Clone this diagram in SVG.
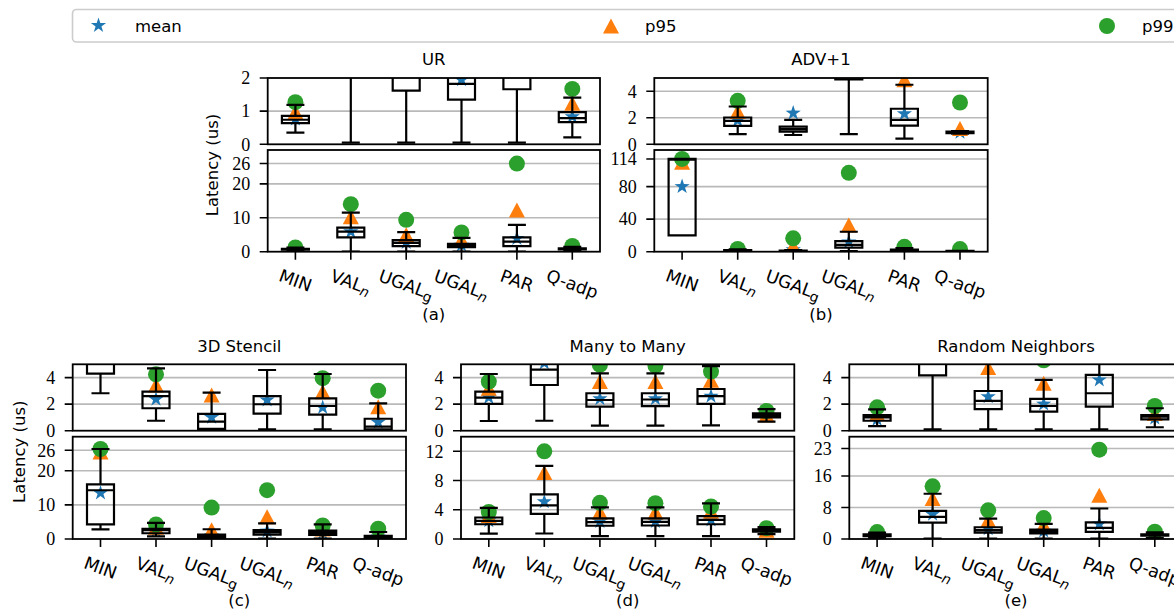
<svg xmlns="http://www.w3.org/2000/svg" width="1174" height="611" viewBox="0 0 1174 611">
<style>
.sp{fill:none;stroke:#000;stroke-width:1.8}
.gr{fill:none;stroke:#b9b9b9;stroke-width:1.6}
.tk{fill:none;stroke:#000;stroke-width:1.6}
.bx path{fill:none;stroke:#000;stroke-width:2.2;vector-effect:non-scaling-stroke}
.num{font-family:"Liberation Serif","Times New Roman",serif;font-size:18px;text-anchor:end;fill:#000}
.ttl{font-family:"DejaVu Sans",sans-serif;font-size:16.5px;text-anchor:middle;fill:#000}
.cat{font-family:"DejaVu Sans",sans-serif;font-size:17.5px;text-anchor:middle;dominant-baseline:central;fill:#000}
.sub{font-style:italic;font-size:14px}
.subg{font-size:14px}
.leg{font-family:"DejaVu Sans",sans-serif;font-size:16.5px;fill:#000}
</style>
<defs>
<path id="ms" d="M0-8L1.8-2.48 7.61-2.47 2.91.95 4.7 6.47 0 3.06-4.7 6.47-2.91.95-7.61-2.47-1.8-2.48Z" fill="#1f77b4"/>
<path id="mt" d="M0-7.5L8 7.5H-8Z" fill="#ff7f0e"/>
<circle id="mc" r="8" fill="#2ca02c"/>
<clipPath id="cAt"><rect x="267.7" y="78" width="332.3" height="66.3"/></clipPath>
<clipPath id="cAb"><rect x="267.7" y="150" width="332.3" height="101.7"/></clipPath>
<clipPath id="cBt"><rect x="654.3" y="78" width="333.4" height="66.3"/></clipPath>
<clipPath id="cBb"><rect x="654.3" y="150" width="333.4" height="101.7"/></clipPath>
<clipPath id="cCt"><rect x="72.7" y="364.3" width="333.3" height="66.4"/></clipPath>
<clipPath id="cCb"><rect x="72.7" y="436.7" width="333.3" height="102.3"/></clipPath>
<clipPath id="cDt"><rect x="461" y="364.3" width="333.3" height="66.4"/></clipPath>
<clipPath id="cDb"><rect x="461" y="436.7" width="333.3" height="102.3"/></clipPath>
<clipPath id="cEt"><rect x="849.3" y="364.3" width="333.3" height="66.4"/></clipPath>
<clipPath id="cEb"><rect x="849.3" y="436.7" width="333.3" height="102.3"/></clipPath>
<g id="bA" class="bx">
<path d="M286.4 .35H304.4M295.4 .35V.64M281.9 .64H308.9V.86H281.9ZM281.9 .74H308.9M295.4 .86V1.19M286.4 1.19H304.4"/>
<path d="M341.8 .05H359.8M350.8 .05V4.2M337.3 4.2H364.3V7.1H337.3ZM337.3 5.9H364.3M350.8 7.1V11.5M341.8 11.5H359.8"/>
<path d="M397.2 .05H415.2M406.2 .05V1.62M392.7 1.62H419.7V3.4H392.7ZM392.7 2.6H419.7M406.2 3.4V5.8M397.2 5.8H415.2"/>
<path d="M452.5 .05H470.5M461.5 .05V1.35M448 1.35H475V2.3H448ZM448 1.82H475M461.5 2.3V4.1M452.5 4.1H470.5"/>
<path d="M507.9 .05H525.9M516.9 .05V1.66M503.4 1.66H530.4V4.2H503.4ZM503.4 2.95H530.4M516.9 4.2V7.9M507.9 7.9H525.9"/>
<path d="M563.3 .21H581.3M572.3 .21V.67M558.8 .67H585.8V.97H558.8ZM558.8 .79H585.8M572.3 .97V1.41M563.3 1.41H581.3"/>
</g>
<g id="bB" class="bx">
<path d="M673.1 20H691.1M668.6 20H695.6V114H668.6ZM668.6 113H695.6M673.1 114H691.1"/>
<path d="M728.7 .76H746.7M737.7 .76V1.39M724.2 1.39H751.2V2.02H724.2ZM724.2 1.77H751.2M737.7 2.02V2.85M728.7 2.85H746.7"/>
<path d="M784.2 .7H802.2M793.2 .7V.95M779.7 .95H806.7V1.33H779.7ZM779.7 1.15H806.7M793.2 1.33V1.84M784.2 1.84H802.2"/>
<path d="M839.8 .76H857.8M848.8 .76V4.9M835.3 4.9H862.3V13H835.3ZM835.3 8.5H862.3M848.8 13V24.5M839.8 24.5H857.8"/>
<path d="M895.4 .43H913.4M904.4 .43V1.41M890.9 1.41H917.9V2.68H890.9ZM890.9 1.84H917.9M904.4 2.68V4.49M895.4 4.49H913.4"/>
<path d="M951 .8H969M960 .8V.85M946.5 .85H973.5V.95H946.5ZM946.5 .9H973.5M960 .95V1M951 1H969"/>
</g>
<g id="bC" class="bx">
<path d="M91.5 2.82H109.5M100.5 2.82V4.3M87 4.3H114V16H87ZM87 14.3H114M100.5 16V26.4M91.5 26.4H109.5"/>
<path d="M147 .75H165M156 .75V1.69M142.5 1.69H169.5V2.94H142.5ZM142.5 2.61H169.5M156 2.94V4.7M147 4.7H165"/>
<path d="M202.6 .1H220.6M211.6 .1V.13M198.1 .13H225.1V1.26H198.1ZM198.1 .68H225.1M211.6 1.26V2.86M202.6 2.86H220.6"/>
<path d="M258.1 .1H276.1M267.1 .1V1.28M253.6 1.28H280.6V2.61H253.6ZM253.6 1.99H280.6M267.1 2.61V4.57M258.1 4.57H276.1"/>
<path d="M313.7 .1H331.7M322.7 .1V1.21M309.2 1.21H336.2V2.44H309.2ZM309.2 1.86H336.2M322.7 2.44V4.27M313.7 4.27H331.7"/>
<path d="M369.2 .05H387.2M378.2 .05V.1M364.7 .1H391.7V.9H364.7ZM364.7 .3H391.7M378.2 .9V2.06M369.2 2.06H387.2"/>
</g>
<g id="bD" class="bx">
<path d="M479.8 .73H497.8M488.8 .73V2.02M475.3 2.02H502.3V2.94H475.3ZM475.3 2.49H502.3M488.8 2.94V4.27M479.8 4.27H497.8"/>
<path d="M535.3 .75H553.3M544.3 .75V3.44M530.8 3.44H557.8V6.1H530.8ZM530.8 4.6H557.8M544.3 6.1V10M535.3 10H553.3"/>
<path d="M590.9 .38H608.9M599.9 .38V1.81M586.4 1.81H613.4V2.82H586.4ZM586.4 2.31H613.4M599.9 2.82V4.32M590.9 4.32H608.9"/>
<path d="M646.4 .38H664.4M655.4 .38V1.85M641.9 1.85H668.9V2.82H641.9ZM641.9 2.35H668.9M655.4 2.82V4.32M646.4 4.32H664.4"/>
<path d="M702 .4H720M711 .4V2.02M697.5 2.02H724.5V3.14H697.5ZM697.5 2.61H724.5M711 3.14V4.87M702 4.87H720"/>
<path d="M757.5 .68H775.5M766.5 .68V1.01M753 1.01H780V1.31H753ZM753 1.15H780M766.5 1.31V1.63M757.5 1.63H775.5"/>
</g>
<g id="bE" class="bx">
<path d="M868.1 .35H886.1M877.1 .35V.75M863.6 .75H890.6V1.18H863.6ZM863.6 1H890.6M877.1 1.18V1.61M868.1 1.61H886.1"/>
<path d="M923.6 .1H941.6M932.6 .1V4.16M919.1 4.16H946.1V7.15H919.1ZM919.1 5.6H946.1M932.6 7.15V11.5M923.6 11.5H941.6"/>
<path d="M979.2 .1H997.2M988.2 .1V1.63M974.7 1.63H1001.7V2.99H974.7ZM974.7 2.24H1001.7M988.2 2.99V5.2M979.2 5.2H997.2"/>
<path d="M1034.7 .1H1052.7M1043.7 .1V1.43M1030.2 1.43H1057.2V2.39H1030.2ZM1030.2 1.86H1057.2M1043.7 2.39V3.82M1034.7 3.82H1052.7"/>
<path d="M1090.3 .1H1108.3M1099.3 .1V1.81M1085.8 1.81H1112.8V4.2H1085.8ZM1085.8 2.82H1112.8M1099.3 4.2V7.75M1090.3 7.75H1108.3"/>
<path d="M1145.8 .26H1163.8M1154.8 .26V.86M1141.3 .86H1168.3V1.18H1141.3ZM1141.3 1.05H1168.3M1154.8 1.18V1.69M1145.8 1.69H1163.8"/>
</g>
</defs>
<rect width="1174" height="611" fill="#fff"/>

<g id="legend">
<rect x="72.5" y="9.5" width="1115" height="32.5" rx="4" fill="#fff" stroke="#cccccc" stroke-width="1.6"/>
<use href="#ms" x="98.5" y="25.5"/><text class="leg" x="135" y="31.5">mean</text>
<use href="#mt" x="611" y="26"/><text class="leg" x="645" y="31.5">p95</text>
<use href="#mc" x="1107" y="26"/><text class="leg" x="1142" y="31.5">p99</text>
</g>

<g id="panel-a">
<path class="gr" d="M267.7 111.15H600M267.7 217.8H600M267.7 183.9H600M267.7 163.56H600"/>
<g clip-path="url(#cAt)">
<use href="#ms" x="295.4" y="119.1"/><use href="#ms" x="461.5" y="79.7"/><use href="#ms" x="572.3" y="116.8"/>
<use href="#mt" x="295.4" y="112.1"/><use href="#mt" x="572.3" y="103.2"/>
<use href="#mc" x="295.4" y="102.2"/><use href="#mc" x="572.3" y="88.9"/>
<use href="#bA" transform="matrix(1 0 0 -33.15 0 144.3)"/>
</g>
<g clip-path="url(#cAb)">
<use href="#ms" x="295.4" y="249.1"/><use href="#ms" x="350.8" y="231.7"/><use href="#ms" x="406.2" y="242.5"/><use href="#ms" x="461.5" y="245.1"/><use href="#ms" x="516.9" y="238.5"/><use href="#ms" x="572.3" y="248.9"/>
<use href="#mt" x="295.4" y="248.4"/><use href="#mt" x="350.8" y="216.8"/><use href="#mt" x="406.2" y="234.75"/><use href="#mt" x="461.5" y="239.8"/><use href="#mt" x="516.9" y="210"/><use href="#mt" x="572.3" y="247.5"/>
<use href="#mc" x="295.4" y="247.4"/><use href="#mc" x="350.8" y="204.2"/><use href="#mc" x="406.2" y="219.8"/><use href="#mc" x="461.5" y="232.4"/><use href="#mc" x="516.9" y="163.6"/><use href="#mc" x="572.3" y="246"/>
<use href="#bA" transform="matrix(1 0 0 -3.39 0 251.7)"/>
</g>
<rect class="sp" x="267.7" y="78" width="332.3" height="66.3"/>
<rect class="sp" x="267.7" y="150" width="332.3" height="101.7"/>
<path class="tk" d="M259.7 144.3H267.7M259.7 111.15H267.7M259.7 78H267.7M259.7 251.7H267.7M259.7 217.8H267.7M259.7 183.9H267.7M259.7 163.56H267.7M295.4 251.7v8M350.8 251.7v8M406.2 251.7v8M461.5 251.7v8M516.9 251.7v8M572.3 251.7v8"/>
<text class="num" x="250.2" y="150.6">0</text><text class="num" x="250.2" y="117.45">1</text><text class="num" x="250.2" y="84.3">2</text>
<text class="num" x="250.2" y="258">0</text><text class="num" x="250.2" y="224.1">10</text><text class="num" x="250.2" y="190.2">20</text><text class="num" x="250.2" y="169.86">26</text>
<text class="ttl" x="433.8" y="65">UR</text>
<text class="ttl" transform="translate(218,165) rotate(-90)">Latency (us)</text>
<text class="cat" transform="translate(295.4,280.6) rotate(20)">MIN</text>
<text class="cat" transform="translate(350.8,282.2) rotate(20)">VAL<tspan class="sub" dy="4">n</tspan></text>
<text class="cat" transform="translate(406.2,284.8) rotate(20)">UGAL<tspan class="subg" dy="4">g</tspan></text>
<text class="cat" transform="translate(461.5,284.8) rotate(20)">UGAL<tspan class="sub" dy="4">n</tspan></text>
<text class="cat" transform="translate(516.9,280.9) rotate(20)">PAR</text>
<text class="cat" transform="translate(572.3,284.1) rotate(20)">Q-adp</text>
<text class="ttl" x="433.8" y="320">(a)</text>
</g>

<g id="panel-b">
<path class="gr" d="M654.3 117.8H987.7M654.3 91.26H987.7M654.3 219.16H987.7M654.3 186.6H987.7M654.3 158.95H987.7"/>
<g clip-path="url(#cBt)">
<use href="#ms" x="737.7" y="120.4"/><use href="#ms" x="793.2" y="113.1"/><use href="#ms" x="904.4" y="113.8"/><use href="#ms" x="960" y="132.4"/>
<use href="#mt" x="737.7" y="111.5"/><use href="#mt" x="904.4" y="79.7"/><use href="#mt" x="960" y="128.4"/>
<use href="#mc" x="737.7" y="100.8"/><use href="#mc" x="960" y="102.5"/>
<use href="#bB" transform="matrix(1 0 0 -13.26 0 144.3)"/>
</g>
<g clip-path="url(#cBb)">
<use href="#ms" x="682.1" y="186.6"/><use href="#ms" x="737.7" y="250.2"/><use href="#ms" x="793.2" y="249.8"/><use href="#ms" x="848.8" y="241.9"/><use href="#ms" x="904.4" y="249.8"/><use href="#ms" x="960" y="251"/>
<use href="#mt" x="682.1" y="162.2"/><use href="#mt" x="737.7" y="249.7"/><use href="#mt" x="793.2" y="246"/><use href="#mt" x="848.8" y="224.9"/><use href="#mt" x="904.4" y="247.7"/><use href="#mt" x="960" y="250.7"/>
<use href="#mc" x="682.1" y="158.95"/><use href="#mc" x="737.7" y="249"/><use href="#mc" x="793.2" y="238.3"/><use href="#mc" x="848.8" y="172.8"/><use href="#mc" x="904.4" y="246.8"/><use href="#mc" x="960" y="249.1"/>
<use href="#bB" transform="matrix(1 0 0 -0.8136 0 251.7)"/>
</g>
<rect class="sp" x="654.3" y="78" width="333.4" height="66.3"/>
<rect class="sp" x="654.3" y="150" width="333.4" height="101.7"/>
<path class="tk" d="M646.3 144.3H654.3M646.3 117.8H654.3M646.3 91.26H654.3M646.3 251.7H654.3M646.3 219.16H654.3M646.3 186.6H654.3M646.3 158.95H654.3M682.1 251.7v8M737.7 251.7v8M793.2 251.7v8M848.8 251.7v8M904.4 251.7v8M960 251.7v8"/>
<text class="num" x="636.8" y="150.6">0</text><text class="num" x="636.8" y="124.1">2</text><text class="num" x="636.8" y="97.56">4</text>
<text class="num" x="636.8" y="258">0</text><text class="num" x="636.8" y="225.46">40</text><text class="num" x="636.8" y="192.9">80</text><text class="num" x="636.8" y="165.25">114</text>
<text class="ttl" x="821" y="65">ADV+1</text>
<text class="cat" transform="translate(682.1,280.6) rotate(20)">MIN</text>
<text class="cat" transform="translate(737.7,282.2) rotate(20)">VAL<tspan class="sub" dy="4">n</tspan></text>
<text class="cat" transform="translate(793.2,284.8) rotate(20)">UGAL<tspan class="subg" dy="4">g</tspan></text>
<text class="cat" transform="translate(848.8,284.8) rotate(20)">UGAL<tspan class="sub" dy="4">n</tspan></text>
<text class="cat" transform="translate(904.4,280.9) rotate(20)">PAR</text>
<text class="cat" transform="translate(960,284.1) rotate(20)">Q-adp</text>
<text class="ttl" x="821" y="320">(b)</text>
</g>

<g id="panel-c">
<path class="gr" d="M72.7 404.14H406M72.7 377.58H406M72.7 504.9H406M72.7 470.8H406M72.7 450.3H406"/>
<g clip-path="url(#cCt)">
<use href="#ms" x="156" y="399.2"/><use href="#ms" x="211.6" y="417.4"/><use href="#ms" x="267.1" y="400"/><use href="#ms" x="322.7" y="407.5"/><use href="#ms" x="378.2" y="422.3"/>
<use href="#mt" x="156" y="385"/><use href="#mt" x="211.6" y="395"/><use href="#mt" x="322.7" y="391.7"/><use href="#mt" x="378.2" y="406.7"/>
<use href="#mc" x="156" y="374.3"/><use href="#mc" x="322.7" y="378.2"/><use href="#mc" x="378.2" y="390.7"/>
<use href="#bC" transform="matrix(1 0 0 -13.28 0 430.7)"/>
</g>
<g clip-path="url(#cCb)">
<use href="#ms" x="100.5" y="493"/><use href="#ms" x="156" y="530.9"/><use href="#ms" x="211.6" y="535.6"/><use href="#ms" x="267.1" y="531.1"/><use href="#ms" x="322.7" y="533"/><use href="#ms" x="378.2" y="536.9"/>
<use href="#mt" x="100.5" y="452"/><use href="#mt" x="156" y="527.3"/><use href="#mt" x="211.6" y="529.8"/><use href="#mt" x="267.1" y="516.8"/><use href="#mt" x="322.7" y="529"/><use href="#mt" x="378.2" y="532.8"/>
<use href="#mc" x="100.5" y="449"/><use href="#mc" x="156" y="524.5"/><use href="#mc" x="211.6" y="507.6"/><use href="#mc" x="267.1" y="490.2"/><use href="#mc" x="322.7" y="525.5"/><use href="#mc" x="378.2" y="528.7"/>
<use href="#bC" transform="matrix(1 0 0 -3.41 0 539)"/>
</g>
<rect class="sp" x="72.7" y="364.3" width="333.3" height="66.4"/>
<rect class="sp" x="72.7" y="436.7" width="333.3" height="102.3"/>
<path class="tk" d="M64.7 430.7H72.7M64.7 404.14H72.7M64.7 377.58H72.7M64.7 539H72.7M64.7 504.9H72.7M64.7 470.8H72.7M64.7 450.3H72.7M100.5 539v8M156 539v8M211.6 539v8M267.1 539v8M322.7 539v8M378.2 539v8"/>
<text class="num" x="55.2" y="437">0</text><text class="num" x="55.2" y="410.44">2</text><text class="num" x="55.2" y="383.88">4</text>
<text class="num" x="55.2" y="545.3">0</text><text class="num" x="55.2" y="511.2">10</text><text class="num" x="55.2" y="477.1">20</text><text class="num" x="55.2" y="456.6">26</text>
<text class="ttl" x="239.3" y="351.5">3D Stencil</text>
<text class="ttl" transform="translate(24.5,451.7) rotate(-90)">Latency (us)</text>
<text class="cat" transform="translate(100.5,567.9) rotate(20)">MIN</text>
<text class="cat" transform="translate(156,569.5) rotate(20)">VAL<tspan class="sub" dy="4">n</tspan></text>
<text class="cat" transform="translate(211.6,572.1) rotate(20)">UGAL<tspan class="subg" dy="4">g</tspan></text>
<text class="cat" transform="translate(267.1,572.1) rotate(20)">UGAL<tspan class="sub" dy="4">n</tspan></text>
<text class="cat" transform="translate(322.7,568.2) rotate(20)">PAR</text>
<text class="cat" transform="translate(378.2,571.4) rotate(20)">Q-adp</text>
<text class="ttl" x="239.3" y="605.5">(c)</text>
</g>

<g id="panel-d">
<path class="gr" d="M461 404.14H794.3M461 377.58H794.3M461 509.8H794.3M461 480.5H794.3M461 451.3H794.3"/>
<g clip-path="url(#cDt)">
<use href="#ms" x="488.8" y="397.5"/><use href="#ms" x="544.3" y="363"/><use href="#ms" x="599.9" y="398.8"/><use href="#ms" x="655.4" y="398.8"/><use href="#ms" x="711" y="396.2"/><use href="#ms" x="766.5" y="416.1"/>
<use href="#mt" x="488.8" y="388.2"/><use href="#mt" x="599.9" y="381.6"/><use href="#mt" x="655.4" y="381.6"/><use href="#mt" x="711" y="380.2"/><use href="#mt" x="766.5" y="414.8"/>
<use href="#mc" x="488.8" y="381.6"/><use href="#mc" x="599.9" y="364.9"/><use href="#mc" x="655.4" y="365.6"/><use href="#mc" x="711" y="371.6"/><use href="#mc" x="766.5" y="411"/>
<use href="#bD" transform="matrix(1 0 0 -13.28 0 430.7)"/>
</g>
<g clip-path="url(#cDb)">
<use href="#ms" x="488.8" y="520.7"/><use href="#ms" x="544.3" y="501.7"/><use href="#ms" x="599.9" y="521.5"/><use href="#ms" x="655.4" y="521.5"/><use href="#ms" x="711" y="520"/><use href="#ms" x="766.5" y="531"/>
<use href="#mt" x="488.8" y="515.6"/><use href="#mt" x="544.3" y="472.5"/><use href="#mt" x="599.9" y="512"/><use href="#mt" x="655.4" y="512"/><use href="#mt" x="711" y="511.2"/><use href="#mt" x="766.5" y="530.2"/>
<use href="#mc" x="488.8" y="512"/><use href="#mc" x="544.3" y="451.3"/><use href="#mc" x="599.9" y="502.8"/><use href="#mc" x="655.4" y="503.2"/><use href="#mc" x="711" y="506.5"/><use href="#mc" x="766.5" y="528.2"/>
<use href="#bD" transform="matrix(1 0 0 -7.307 0 539)"/>
</g>
<rect class="sp" x="461" y="364.3" width="333.3" height="66.4"/>
<rect class="sp" x="461" y="436.7" width="333.3" height="102.3"/>
<path class="tk" d="M453 430.7H461M453 404.14H461M453 377.58H461M453 539H461M453 509.8H461M453 480.5H461M453 451.3H461M488.8 539v8M544.3 539v8M599.9 539v8M655.4 539v8M711 539v8M766.5 539v8"/>
<text class="num" x="443.5" y="437">0</text><text class="num" x="443.5" y="410.44">2</text><text class="num" x="443.5" y="383.88">4</text>
<text class="num" x="443.5" y="545.3">0</text><text class="num" x="443.5" y="516.1">4</text><text class="num" x="443.5" y="486.8">8</text><text class="num" x="443.5" y="457.6">12</text>
<text class="ttl" x="627.7" y="351.5">Many to Many</text>
<text class="cat" transform="translate(488.8,567.9) rotate(20)">MIN</text>
<text class="cat" transform="translate(544.3,569.5) rotate(20)">VAL<tspan class="sub" dy="4">n</tspan></text>
<text class="cat" transform="translate(599.9,572.1) rotate(20)">UGAL<tspan class="subg" dy="4">g</tspan></text>
<text class="cat" transform="translate(655.4,572.1) rotate(20)">UGAL<tspan class="sub" dy="4">n</tspan></text>
<text class="cat" transform="translate(711,568.2) rotate(20)">PAR</text>
<text class="cat" transform="translate(766.5,571.4) rotate(20)">Q-adp</text>
<text class="ttl" x="627.7" y="605.5">(d)</text>
</g>

<g id="panel-e">
<path class="gr" d="M849.3 404.14H1182.6M849.3 377.58H1182.6M849.3 507.5H1182.6M849.3 476H1182.6M849.3 448.5H1182.6"/>
<g clip-path="url(#cEt)">
<use href="#ms" x="877.1" y="419.4"/><use href="#ms" x="988.2" y="396.7"/><use href="#ms" x="1043.7" y="404.1"/><use href="#ms" x="1099.3" y="380"/><use href="#ms" x="1154.8" y="418.1"/>
<use href="#mt" x="877.1" y="413.4"/><use href="#mt" x="988.2" y="367.6"/><use href="#mt" x="1043.7" y="383.3"/><use href="#mt" x="1154.8" y="413.4"/>
<use href="#mc" x="877.1" y="407.3"/><use href="#mc" x="1043.7" y="360.3"/><use href="#mc" x="1154.8" y="406"/>
<use href="#bE" transform="matrix(1 0 0 -13.28 0 430.7)"/>
</g>
<g clip-path="url(#cEb)">
<use href="#ms" x="877.1" y="535.7"/><use href="#ms" x="932.6" y="514.2"/><use href="#ms" x="988.2" y="528.9"/><use href="#ms" x="1043.7" y="531.1"/><use href="#ms" x="1099.3" y="524"/><use href="#ms" x="1154.8" y="535.3"/>
<use href="#mt" x="877.1" y="533.9"/><use href="#mt" x="932.6" y="498.5"/><use href="#mt" x="988.2" y="520.3"/><use href="#mt" x="1043.7" y="525"/><use href="#mt" x="1099.3" y="495.3"/><use href="#mt" x="1154.8" y="533.9"/>
<use href="#mc" x="877.1" y="532.1"/><use href="#mc" x="932.6" y="486.3"/><use href="#mc" x="988.2" y="510.3"/><use href="#mc" x="1043.7" y="518.1"/><use href="#mc" x="1099.3" y="449.7"/><use href="#mc" x="1154.8" y="531.7"/>
<use href="#bE" transform="matrix(1 0 0 -3.935 0 539)"/>
</g>
<rect class="sp" x="849.3" y="364.3" width="333.3" height="66.4"/>
<rect class="sp" x="849.3" y="436.7" width="333.3" height="102.3"/>
<path class="tk" d="M841.3 430.7H849.3M841.3 404.14H849.3M841.3 377.58H849.3M841.3 539H849.3M841.3 507.5H849.3M841.3 476H849.3M841.3 448.5H849.3M877.1 539v8M932.6 539v8M988.2 539v8M1043.7 539v8M1099.3 539v8M1154.8 539v8"/>
<text class="num" x="831.8" y="437">0</text><text class="num" x="831.8" y="410.44">2</text><text class="num" x="831.8" y="383.88">4</text>
<text class="num" x="831.8" y="545.3">0</text><text class="num" x="831.8" y="513.8">8</text><text class="num" x="831.8" y="482.3">16</text><text class="num" x="831.8" y="454.8">23</text>
<text class="ttl" x="1016" y="351.5">Random Neighbors</text>
<text class="cat" transform="translate(877.1,567.9) rotate(20)">MIN</text>
<text class="cat" transform="translate(932.6,569.5) rotate(20)">VAL<tspan class="sub" dy="4">n</tspan></text>
<text class="cat" transform="translate(988.2,572.1) rotate(20)">UGAL<tspan class="subg" dy="4">g</tspan></text>
<text class="cat" transform="translate(1043.7,572.1) rotate(20)">UGAL<tspan class="sub" dy="4">n</tspan></text>
<text class="cat" transform="translate(1099.3,568.2) rotate(20)">PAR</text>
<text class="cat" transform="translate(1154.8,571.4) rotate(20)">Q-adp</text>
<text class="ttl" x="1016" y="605.5">(e)</text>
</g>
</svg>
